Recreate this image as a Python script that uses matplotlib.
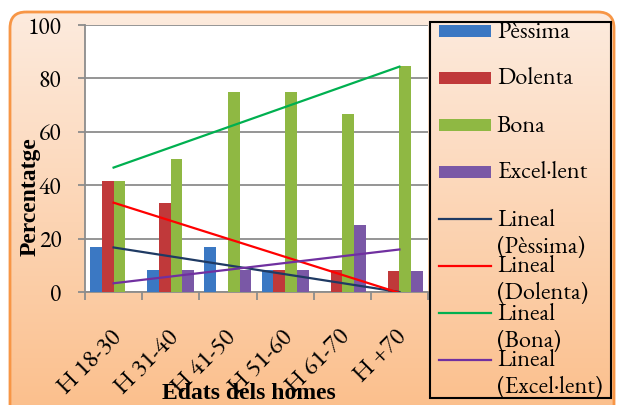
import numpy as np
import matplotlib
matplotlib.use('Agg')
import matplotlib.pyplot as plt
from matplotlib.patches import FancyBboxPatch, Rectangle
from matplotlib.lines import Line2D
from matplotlib.colors import LinearSegmentedColormap
from matplotlib.transforms import ScaledTranslation

categories = ['H 18-30', 'H 31-40', 'H 41-50', 'H 51-60', 'H 61-70', 'H +70']
series_names = ['Pèssima', 'Dolenta', 'Bona', 'Excel·lent']
pessima = [16.7, 8.3, 16.7, 8.3, 0, 0]
dolenta = [41.7, 33.3, 0, 8.3, 8.3, 7.7]
bona = [41.7, 50, 75, 75, 66.7, 84.6]
excellent = [0, 8.3, 8.3, 8.3, 25, 7.7]
y_ticks = [0, 20, 40, 60, 80, 100]
x_label = 'Edats dels homes'
y_label = 'Percentatge'
trend_prefix = 'Lineal'

series = [pessima, dolenta, bona, excellent]
bar_colors = ['#3B78C3', '#C0393A', '#8FB843', '#7A58A6']
trend_colors = ['#1F3A63', '#FF0000', '#00B050', '#7030A0']
grid_color = '#8C8C8C'
SERIF = ['EB Garamond', 'Liberation Serif', 'DejaVu Serif']
BOLD = ['Liberation Serif', 'DejaVu Serif']

W, H = 619, 405
fig = plt.figure(figsize=(W / 100, H / 100), dpi=100)
fig.patch.set_facecolor('white')

# background rounded panel with vertical gradient
bg = fig.add_axes([0, 0, 1, 1], zorder=0)
box = FancyBboxPatch((10, 12), 604, 420, boxstyle='round,pad=0,rounding_size=16',
                     ec='#F79646', fc='none', lw=2, zorder=2)
bg.add_patch(box)
cmap = LinearSegmentedColormap.from_list('g', ['#FDEBDE', '#FBBD88'])
grad = np.linspace(0, 1, 256).reshape(-1, 1)
im = bg.imshow(grad, cmap=cmap, extent=[10, 614, 432, 12], origin='upper',
               aspect='auto', zorder=1)
im.set_clip_path(box)
bg.set_xlim(0, W)
bg.set_ylim(H, 0)
bg.axis('off')

# main plot
ax = fig.add_axes([85 / W, 1 - 292 / H, 343 / W, 267 / H], zorder=2)
ax.set_facecolor('white')
x = np.arange(len(categories))
bw = 0.205
for i, (vals, c) in enumerate(zip(series, bar_colors)):
    ax.bar(x + (i - 1.5) * bw, vals, bw, color=c, zorder=3, label=series_names[i])

xi = np.arange(1, len(categories) + 1)
for vals, c, n in zip(series, trend_colors, series_names):
    p = np.polyfit(xi, vals, 1)
    ax.plot(x, np.polyval(p, xi), color=c, lw=1.6, zorder=4,
            label=f'{trend_prefix} ({n})')

ax.set_xlim(-0.5, len(categories) - 0.5)
ax.set_ylim(0, 100)
ax.set_yticks(y_ticks)
ax.yaxis.grid(True, color=grid_color, lw=1.3)
ax.set_axisbelow(True)
for s in ['top', 'right']:
    ax.spines[s].set_visible(False)
for s in ['left', 'bottom']:
    ax.spines[s].set_color(grid_color)
    ax.spines[s].set_linewidth(1.3)
ax.tick_params(axis='y', length=5, width=1.3, color=grid_color, pad=12,
               labelsize=17)
ax.set_xticks(x)
ax.set_xticks(np.arange(-0.5, len(categories)), minor=True)
ax.tick_params(axis='x', which='major', length=0, pad=33, labelsize=18)
ax.tick_params(axis='x', which='minor', length=6, width=1.3, color=grid_color)
ax.set_xticklabels(categories, rotation=45, ha='right', rotation_mode='anchor',
                   va='baseline')
shift = ScaledTranslation(8 / 100, 0, fig.dpi_scale_trans)
for lab in ax.get_xticklabels():
    lab.set_fontfamily(SERIF)
    lab.set_transform(lab.get_transform() + shift)
for lab in ax.get_yticklabels():
    lab.set_fontfamily(SERIF)

ax.set_ylabel(y_label, fontfamily=BOLD, fontweight='bold', fontsize=17)
ax.yaxis.set_label_coords(-0.128, 0.356)
ax.set_xlabel(x_label, fontfamily=BOLD, fontweight='bold', fontsize=17, va='top')
ax.xaxis.set_label_coords(0.478, -0.34)

# legend panel (drawn in pixel coordinates)
lg = fig.add_axes([0, 0, 1, 1], zorder=5)
lg.set_xlim(0, W)
lg.set_ylim(H, 0)
lg.axis('off')
lg.add_patch(Rectangle((430, 22), 181, 376, fc='none', ec='black', lw=1.5))
y0, step = 31, 47
FS = 17.5
for i, (n, c) in enumerate(zip(series_names, bar_colors)):
    yc = y0 + i * step
    lg.add_patch(Rectangle((439, yc - 6), 52, 12, fc=c, ec='none'))
    lg.text(497, yc + 6.5, n, fontfamily=SERIF, fontsize=FS, va='baseline', ha='left')
for j, (n, c) in enumerate(zip(series_names, trend_colors)):
    yc = y0 + (4 + j) * step
    lg.add_line(Line2D([439, 491], [yc, yc], color=c, lw=1.6))
    lg.text(497, yc + 6.5, trend_prefix, fontfamily=SERIF, fontsize=FS, va='baseline', ha='left')
    lg.text(497, yc + 33.5, f'({n})', fontfamily=SERIF, fontsize=FS, va='baseline', ha='left')

fig.savefig('out.png', dpi=100, facecolor='white')
